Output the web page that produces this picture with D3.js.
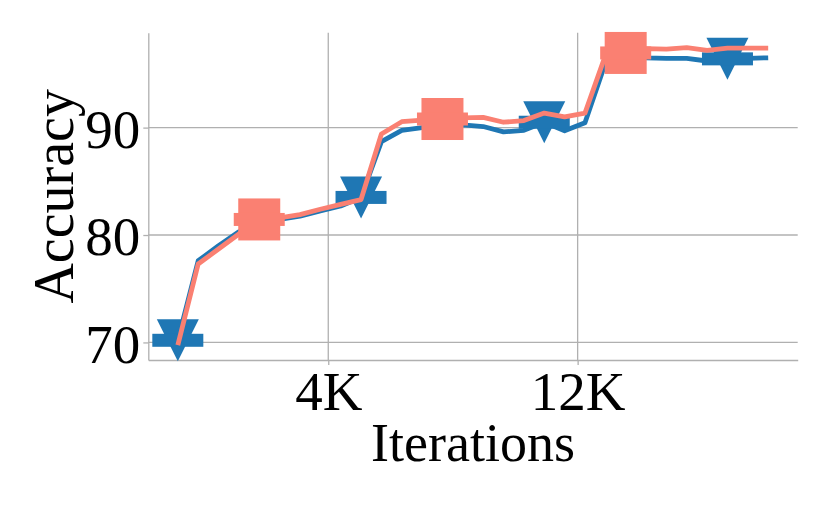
<!DOCTYPE html>
<html>
<head>
<meta charset="utf-8">
<script src="https://cdn.jsdelivr.net/npm/d3@7"></script>
<style>
  html, body { margin: 0; padding: 0; background: #fff; }
  svg text { font-family: "Liberation Serif", "DejaVu Serif", serif; fill: #000; }
</style>
</head>
<body>
<div id="chart"></div>
<script>
// evaluation points (index of each evaluation along the run)
const steps = d3.range(30);
const blueAcc = [70.2, 77.6, 79.0, 80.3, 81.3, 81.45, 81.75, 82.25, 82.7, 83.5,
                 88.7, 89.75, 90.0, 90.2, 90.25, 90.1, 89.6, 89.75, 90.5, 89.7,
                 90.45, 96.0, 96.6, 96.5, 96.45, 96.45, 96.2, 96.4, 96.45, 96.5];
const salmonAcc = [69.75, 77.3, 78.7, 80.1, 81.45, 81.6, 81.9, 82.4, 82.85, 83.3,
                   89.4, 90.55, 90.7, 90.8, 90.9, 90.95, 90.5, 90.65, 91.35, 91.0,
                   91.35, 96.7, 96.95, 97.35, 97.3, 97.45, 97.2, 97.4, 97.4, 97.4];
const blueMarkers = [0, 9, 18, 27];
const salmonMarkers = [4, 13, 22];
// x tick positions (in step units) and their labels
const xTickPos = [7.39, 19.64];
const xTickLabels = ["4K", "12K"];
const yTicks = [70, 80, 90];

const width = 830, height = 513;
const margin = {top: 32.7, right: 32.3, bottom: 153, left: 148.3};

const svg = d3.select("#chart").append("svg")
    .attr("width", width)
    .attr("height", height);

// matplotlib style 5% margins around the data
function padded(ext) {
    let r = ext[1] - ext[0];
    return [ext[0] - 0.05 * r, ext[1] + 0.05 * r];
}

const x = d3.scaleLinear()
    .domain(padded(d3.extent(steps)))
    .range([margin.left, width - margin.right]);
const y = d3.scaleLinear()
    .domain(padded(d3.extent(blueAcc.concat(salmonAcc))))
    .range([height - margin.bottom, margin.top]);

const gridColor = "#b0b0b0";

// grid
svg.append("g")
    .selectAll("line.hgrid")
    .data(yTicks)
    .enter().append("line")
    .attr("x1", margin.left).attr("x2", width - margin.right)
    .attr("y1", d => y(d)).attr("y2", d => y(d))
    .attr("stroke", gridColor).attr("stroke-width", 1.3);
svg.append("g")
    .selectAll("line.vgrid")
    .data(xTickPos)
    .enter().append("line")
    .attr("y1", margin.top).attr("y2", height - margin.bottom)
    .attr("x1", d => x(d)).attr("x2", d => x(d))
    .attr("stroke", gridColor).attr("stroke-width", 1.3);

// axes
const xAxis = svg.append("g")
    .attr("transform", `translate(0,${height - margin.bottom})`)
    .call(d3.axisBottom(x).tickValues(xTickPos)
        .tickFormat((d, i) => xTickLabels[i])
        .tickSizeInner(5).tickSizeOuter(0).tickPadding(6));
const yAxis = svg.append("g")
    .attr("transform", `translate(${margin.left},0)`)
    .call(d3.axisLeft(y).tickValues(yTicks)
        .tickSizeInner(5).tickSizeOuter(0).tickPadding(3));

[xAxis, yAxis].forEach(ax => {
    ax.select(".domain").attr("stroke", gridColor).attr("stroke-width", 1.3);
    ax.selectAll(".tick line").attr("stroke", gridColor).attr("stroke-width", 1.3);
    ax.selectAll(".tick text")
        .attr("font-family", "Liberation Serif")
        .attr("font-size", 55)
        .attr("fill", "#000");
});
xAxis.selectAll(".tick text").attr("dy", "0.71em");
yAxis.selectAll(".tick text").attr("dy", "0.36em");

// axis titles
svg.append("text")
    .attr("x", (margin.left + width - margin.right) / 2)
    .attr("y", 461)
    .attr("text-anchor", "middle")
    .attr("font-size", 54)
    .text("Iterations");
svg.append("text")
    .attr("transform", `translate(73,${(margin.top + height - margin.bottom) / 2}) rotate(-90)`)
    .attr("text-anchor", "middle")
    .attr("font-size", 56)
    .text("Accuracy");

const line = d3.line()
    .x((d, i) => x(steps[i]))
    .y(d => y(d));

function drawSeries(values, markerIdx, color, shape) {
    svg.append("path")
        .attr("d", line(values))
        .attr("fill", "none")
        .attr("stroke", color)
        .attr("stroke-width", 4.8)
        .attr("stroke-linejoin", "round");
    let g = svg.append("g").selectAll("g")
        .data(markerIdx)
        .enter().append("g")
        .attr("transform", i => `translate(${x(steps[i])},${y(values[i])})`);
    if (shape === "tri") {
        g.append("path")
            .attr("d", "M-21,-21L21,-21L0,21Z")
            .attr("fill", color);
    } else {
        g.append("rect")
            .attr("x", -21).attr("y", -21)
            .attr("width", 42).attr("height", 42)
            .attr("fill", color);
    }
    g.append("rect")
        .attr("x", -25.5).attr("y", -6.5)
        .attr("width", 51).attr("height", 13)
        .attr("fill", color);
}

drawSeries(blueAcc, blueMarkers, "#1f77b4", "tri");
drawSeries(salmonAcc, salmonMarkers, "#fa8072", "square");
</script>
</body>
</html>
